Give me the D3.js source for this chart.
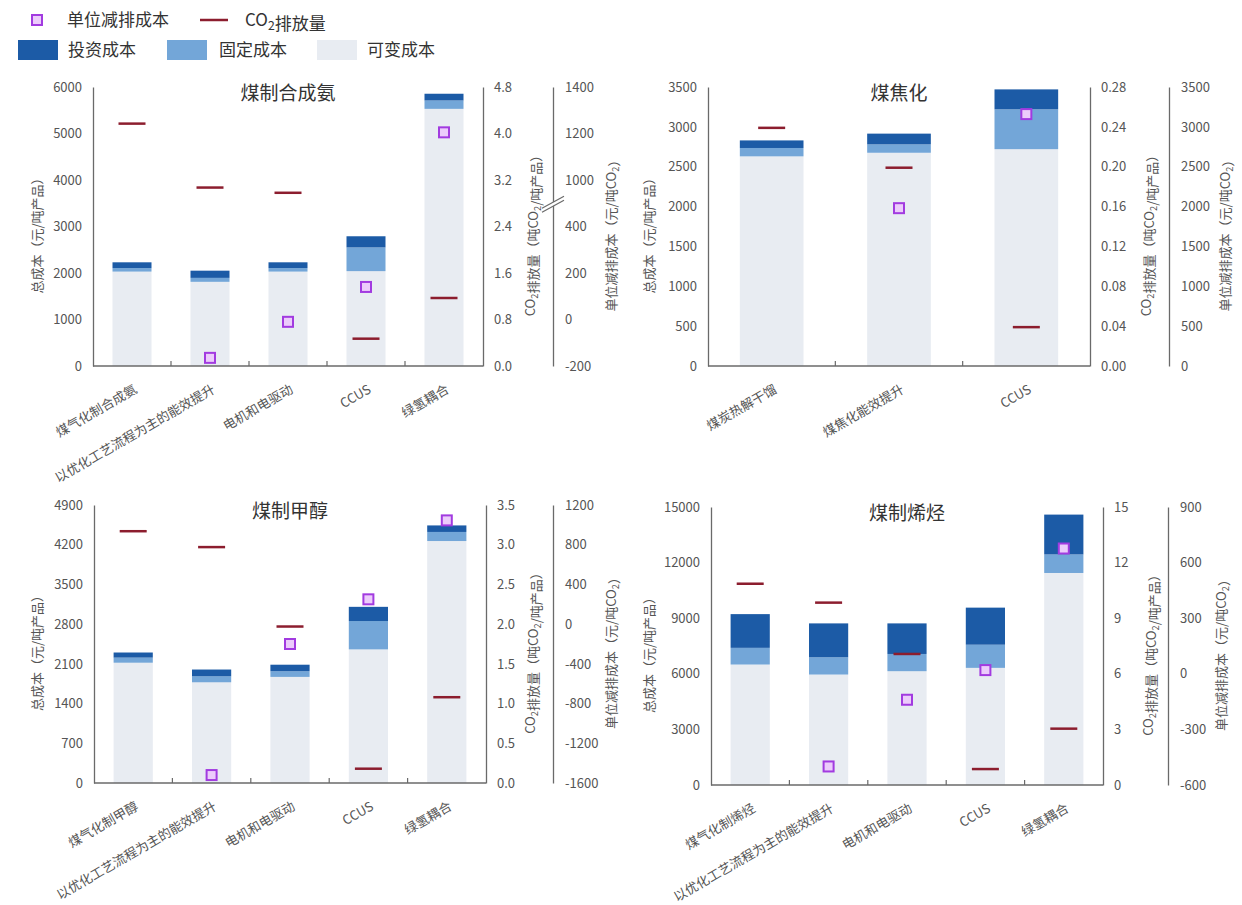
<!DOCTYPE html>
<html>
<head>
<meta charset="utf-8">
<script src="https://cdn.jsdelivr.net/npm/d3@7"></script>
<style>
  body { margin: 0; background: #fff; }
  svg { display: block; }
  text { font-family: "Noto Sans CJK SC", "Noto Sans", sans-serif; }
</style>
</head>
<body>
<svg id="chart" width="1242" height="905"></svg>
<script>
// ---------- data ----------
const seriesKeys = ["variable", "fixed", "invest"];
const seriesNames = { invest: "投资成本", fixed: "固定成本", variable: "可变成本" };

// 煤制合成氨
const ammoniaCategories = ["煤气化制合成氨", "以优化工艺流程为主的能效提升", "电机和电驱动", "CCUS", "绿氢耦合"];
const ammoniaVariable = [2030, 1810, 2030, 2040, 5530];
const ammoniaFixed = [75, 85, 75, 510, 180];
const ammoniaInvest = [125, 155, 125, 240, 145];
const ammoniaCO2 = [4.17, 3.07, 2.98, 0.47, 1.17];
const ammoniaUnitCost = [null, -165, -10, 140, 1205];
const ammoniaCostTicks = [0, 1000, 2000, 3000, 4000, 5000, 6000];
const ammoniaCO2Ticks = [0, 0.8, 1.6, 2.4, 3.2, 4.0, 4.8];
const ammoniaUnitTicks = [-200, 0, 200, 400, 1000, 1200, 1400];

// 煤焦化
const cokingCategories = ["煤炭热解干馏", "煤焦化能效提升", "CCUS"];
const cokingVariable = [2630, 2675, 2720];
const cokingFixed = [105, 105, 500];
const cokingInvest = [95, 135, 250];
const cokingCO2 = [0.239, 0.199, 0.039];
const cokingUnitCost = [null, 1980, 3160];
const cokingCostTicks = [0, 500, 1000, 1500, 2000, 2500, 3000, 3500];
const cokingCO2Ticks = [0, 0.04, 0.08, 0.12, 0.16, 0.20, 0.24, 0.28];
const cokingUnitTicks = [0, 500, 1000, 1500, 2000, 2500, 3000, 3500];

// 煤制甲醇
const methanolCategories = ["煤气化制甲醇", "以优化工艺流程为主的能效提升", "电机和电驱动", "CCUS", "绿氢耦合"];
const methanolVariable = [2120, 1775, 1870, 2355, 4265];
const methanolFixed = [90, 105, 100, 500, 160];
const methanolInvest = [90, 120, 115, 250, 115];
const methanolCO2 = [3.17, 2.97, 1.97, 0.18, 1.08];
const methanolUnitCost = [null, -1520, -200, 250, 1045];
const methanolCostTicks = [0, 700, 1400, 2100, 2800, 3500, 4200, 4900];
const methanolCO2Ticks = [0, 0.5, 1.0, 1.5, 2.0, 2.5, 3.0, 3.5];
const methanolUnitTicks = [-1600, -1200, -800, -400, 0, 400, 800, 1200];

// 煤制烯烃
const olefinCategories = ["煤气化制烯烃", "以优化工艺流程为主的能效提升", "电机和电驱动", "CCUS", "绿氢耦合"];
const olefinVariable = [6500, 5960, 6140, 6320, 11440];
const olefinFixed = [900, 930, 930, 1250, 1000];
const olefinInvest = [1820, 1830, 1650, 2000, 2150];
const olefinCO2 = [10.86, 9.84, 7.07, 0.86, 3.04];
const olefinUnitCost = [null, -500, -140, 20, 676];
const olefinCostTicks = [0, 3000, 6000, 9000, 12000, 15000];
const olefinCO2Ticks = [0, 3, 6, 9, 12, 15];
const olefinUnitTicks = [-600, -300, 0, 300, 600, 900];

// ---------- styling ----------
const colors = { invest: "#1c5ba6", fixed: "#73a6d8", variable: "#e8ecf2" };
const co2Color = "#8c1d2e";
const markerStroke = "#a23be0";
const markerFill = "#ecccfb";
const tickColor = "#555";
const axisColor = "#6a6a6a";

const loc = d3.formatLocale({ decimal: ".", thousands: ",", grouping: [3], currency: ["", ""], minus: "-" });

const svg = d3.select("#chart");
svg.append("rect").attr("width", 1242).attr("height", 905).attr("fill", "#fff");

// text with CO₂ style subscripts: parts are strings or {sub: "2"}
function richText(sel, parts) {
  parts.forEach(p => {
    if (typeof p === "string") {
      sel.append("tspan").text(p);
    } else {
      sel.append("tspan").attr("font-size", "0.72em").attr("dy", "0.3em").text(p.sub);
      sel.append("tspan").attr("dy", "-0.3em").text("");
    }
  });
}

// ---------- legend ----------
const legend = svg.append("g");
legend.append("rect").attr("x", 32).attr("y", 15).attr("width", 10).attr("height", 10)
  .attr("fill", markerFill).attr("stroke", markerStroke).attr("stroke-width", 2);
legend.append("text").attr("x", 67).attr("y", 20).attr("dy", "0.35em")
  .attr("font-size", 17).attr("fill", "#333").text("单位减排成本");
legend.append("line").attr("x1", 200).attr("x2", 228).attr("y1", 20).attr("y2", 20)
  .attr("stroke", co2Color).attr("stroke-width", 2.5);
richText(legend.append("text").attr("x", 245).attr("y", 20).attr("dy", "0.35em")
  .attr("font-size", 17).attr("fill", "#333"), ["CO", { sub: "2" }, "排放量"]);

[["invest", 18, 68], ["fixed", 167, 219], ["variable", 317, 367]].forEach(([k, rx, tx]) => {
  legend.append("rect").attr("x", rx).attr("y", 40).attr("width", 40).attr("height", 20).attr("fill", colors[k]);
  legend.append("text").attr("x", tx).attr("y", 50).attr("dy", "0.35em")
    .attr("font-size", 17).attr("fill", "#333").text(seriesNames[k]);
});

// ---------- panels ----------
function drawPanel(cfg) {
  const g = svg.append("g");
  const n = cfg.categories.length;
  const rows = cfg.categories.map((c, i) => ({
    category: c,
    variable: cfg.variable[i],
    fixed: cfg.fixed[i],
    invest: cfg.invest[i],
    co2: cfg.co2[i],
    unit: cfg.unit[i]
  }));

  const x = d3.scaleBand().domain(cfg.categories).range([cfg.left, cfg.right])
    .paddingInner(0.5).paddingOuter(0.25);
  const y = d3.scaleLinear().domain(d3.extent(cfg.costTicks)).range([cfg.bottom, cfg.top]);
  const yCO2 = d3.scaleLinear().domain(d3.extent(cfg.co2Ticks)).range([cfg.bottom, cfg.top]);
  // the unit-cost axis places its ticks evenly, which also handles a broken axis
  const unitPos = cfg.unitTicks.map((t, i) => cfg.bottom - i * (cfg.bottom - cfg.top) / (cfg.unitTicks.length - 1));
  const yUnit = d3.scaleLinear().domain(cfg.unitTicks).range(unitPos);

  // stacked bars
  const stacked = d3.stack().keys(seriesKeys)(rows);
  g.append("g").selectAll("g").data(stacked).join("g")
    .attr("fill", d => colors[d.key])
    .selectAll("rect").data(d => d).join("rect")
    .attr("x", d => x(d.data.category))
    .attr("width", x.bandwidth())
    .attr("y", d => y(d[1]))
    .attr("height", d => y(d[0]) - y(d[1]));

  // left axis
  const axL = g.append("g").attr("transform", `translate(${cfg.left},0)`)
    .call(d3.axisLeft(y).tickValues(cfg.costTicks).tickSize(0).tickPadding(11).tickFormat(loc.format("d")));
  // CO2 axis
  const axR = g.append("g").attr("transform", `translate(${cfg.right},0)`)
    .call(d3.axisRight(yCO2).tickValues(cfg.co2Ticks).tickSize(0).tickPadding(11).tickFormat(loc.format(cfg.co2Format)));
  // unit-cost axis
  const axU = g.append("g").attr("transform", `translate(${cfg.axis3},0)`)
    .call(d3.axisRight(yUnit).tickValues(cfg.unitTicks).tickSize(0).tickPadding(12).tickFormat(loc.format("d")));
  [axL, axR, axU].forEach(a => {
    a.select(".domain").attr("stroke", axisColor).attr("stroke-width", 1.3);
    a.selectAll("text").attr("font-size", 13).attr("fill", tickColor).attr("font-family", "\"Noto Sans CJK SC\", sans-serif");
  });

  // axis break mark
  if (cfg.axisBreak) {
    const yb = (yUnit(cfg.axisBreak[0]) + yUnit(cfg.axisBreak[1])) / 2;
    const bx = cfg.axis3;
    g.append("polygon")
      .attr("points", `${bx - 11},${yb + 5} ${bx + 11},${yb - 7} ${bx + 11},${yb - 3} ${bx - 11},${yb + 9}`)
      .attr("fill", "#fff");
    [0, 4].forEach(o => g.append("line")
      .attr("x1", bx - 11).attr("y1", yb + 5 + o).attr("x2", bx + 11).attr("y2", yb - 7 + o)
      .attr("stroke", axisColor).attr("stroke-width", 1.2));
  }

  // bottom axis with tick marks at band boundaries
  g.append("line").attr("x1", cfg.left).attr("x2", cfg.right).attr("y1", cfg.bottom).attr("y2", cfg.bottom)
    .attr("stroke", axisColor).attr("stroke-width", 1.3);
  const bounds = d3.range(1, n).map(i => x.range()[0] + i * x.step());
  g.selectAll(".xtick").data(bounds).join("line")
    .attr("x1", d => d).attr("x2", d => d).attr("y1", cfg.bottom).attr("y2", cfg.bottom - 5)
    .attr("stroke", axisColor).attr("stroke-width", 1.2);

  // category labels
  g.selectAll(".cat").data(cfg.categories).join("text")
    .attr("transform", d => `translate(${x(d) + x.bandwidth() / 2 + 6},${cfg.bottom + 26}) rotate(-30)`)
    .attr("text-anchor", "end").attr("font-size", 13).attr("fill", tickColor).text(d => d);

  // CO2 emission marks
  g.selectAll(".co2").data(rows).join("line")
    .attr("x1", d => x(d.category) + x.bandwidth() / 2 - 13.5)
    .attr("x2", d => x(d.category) + x.bandwidth() / 2 + 13.5)
    .attr("y1", d => yCO2(d.co2)).attr("y2", d => yCO2(d.co2))
    .attr("stroke", co2Color).attr("stroke-width", 2.5);

  // unit abatement cost markers
  g.selectAll(".unit").data(rows.filter(d => d.unit !== null)).join("rect")
    .attr("x", d => x(d.category) + x.bandwidth() / 2 - 5)
    .attr("y", d => yUnit(d.unit) - 5)
    .attr("width", 10).attr("height", 10)
    .attr("fill", markerFill).attr("stroke", markerStroke).attr("stroke-width", 2);

  // title
  g.append("text").attr("x", (cfg.left + cfg.right) / 2).attr("y", cfg.top + 6).attr("dy", "0.35em")
    .attr("text-anchor", "middle").attr("font-size", 19).attr("fill", "#333").text(cfg.title);

  // axis titles
  const midY = (cfg.top + cfg.bottom) / 2 + 6;
  g.append("text").attr("transform", `translate(${cfg.leftTitleX},${midY}) rotate(-90)`)
    .attr("text-anchor", "middle").attr("font-size", 13).attr("fill", tickColor).text("总成本（元/吨产品）");
  richText(g.append("text").attr("transform", `translate(${cfg.co2TitleX},${midY}) rotate(-90)`)
    .attr("text-anchor", "middle").attr("font-size", 13).attr("fill", tickColor),
    ["CO", { sub: "2" }, "排放量（吨CO", { sub: "2" }, "/吨产品）"]);
  richText(g.append("text").attr("transform", `translate(${cfg.unitTitleX},${midY}) rotate(-90)`)
    .attr("text-anchor", "middle").attr("font-size", 13).attr("fill", tickColor),
    ["单位减排成本（元/吨CO", { sub: "2" }, "）"]);
}

drawPanel({
  title: "煤制合成氨", categories: ammoniaCategories,
  variable: ammoniaVariable, fixed: ammoniaFixed, invest: ammoniaInvest,
  co2: ammoniaCO2, unit: ammoniaUnitCost,
  costTicks: ammoniaCostTicks, co2Ticks: ammoniaCO2Ticks, unitTicks: ammoniaUnitTicks,
  co2Format: ".1f", axisBreak: [400, 1000],
  left: 93, right: 483, top: 87, bottom: 366, axis3: 553,
  leftTitleX: 42, co2TitleX: 535, unitTitleX: 616
});
drawPanel({
  title: "煤焦化", categories: cokingCategories,
  variable: cokingVariable, fixed: cokingFixed, invest: cokingInvest,
  co2: cokingCO2, unit: cokingUnitCost,
  costTicks: cokingCostTicks, co2Ticks: cokingCO2Ticks, unitTicks: cokingUnitTicks,
  co2Format: ".2f",
  left: 708, right: 1090, top: 87, bottom: 366, axis3: 1169,
  leftTitleX: 654, co2TitleX: 1151, unitTitleX: 1230
});
drawPanel({
  title: "煤制甲醇", categories: methanolCategories,
  variable: methanolVariable, fixed: methanolFixed, invest: methanolInvest,
  co2: methanolCO2, unit: methanolUnitCost,
  costTicks: methanolCostTicks, co2Ticks: methanolCO2Ticks, unitTicks: methanolUnitTicks,
  co2Format: ".1f",
  left: 94, right: 486, top: 505, bottom: 783, axis3: 553,
  leftTitleX: 42, co2TitleX: 535, unitTitleX: 616
});
drawPanel({
  title: "煤制烯烃", categories: olefinCategories,
  variable: olefinVariable, fixed: olefinFixed, invest: olefinInvest,
  co2: olefinCO2, unit: olefinUnitCost,
  costTicks: olefinCostTicks, co2Ticks: olefinCO2Ticks, unitTicks: olefinUnitTicks,
  co2Format: "d",
  left: 711, right: 1103, top: 507, bottom: 785, axis3: 1168,
  leftTitleX: 654, co2TitleX: 1153, unitTitleX: 1226
});
</script>
</body>
</html>
